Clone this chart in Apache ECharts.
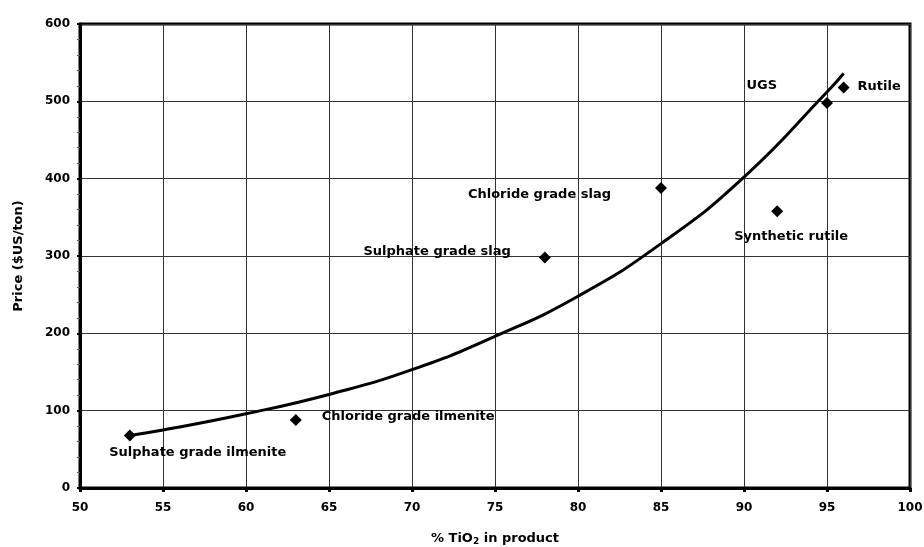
<!DOCTYPE html>
<html><head><meta charset="utf-8">
<script src="https://cdn.jsdelivr.net/npm/echarts@6/dist/echarts.min.js"></script>
<style>html,body{margin:0;padding:0;background:#fff}#c{width:924px;height:547px}</style>
</head><body><div id="c"></div>
<script>
// Data
const productNames = ['Sulphate grade ilmenite','Chloride grade ilmenite','Sulphate grade slag','Chloride grade slag','Synthetic rutile','UGS','Rutile'];
const tio2Pct = [53, 63, 78, 85, 92, 95, 96];
const priceUSD = [68, 88, 298, 388, 358, 498, 518];
// Trend curve points
const trendX = [53, 55, 60, 65, 70, 75, 80, 85, 90, 95, 96];
const trendY = [68, 75, 96, 121, 153, 196, 248, 316, 402, 512, 536];

const font = '"DejaVu Sans", "Liberation Sans", Arial, sans-serif';
const labelStyle = [
  {position:'bottom', offset:[68, 0]},
  {position:'right', distance:20, offset:[0,-3]},
  {position:'left', distance:28, offset:[0,-6]},
  {position:'left', distance:44, offset:[0,7]},
  {position:'bottom', distance:12, offset:[14,1]},
  {position:'left', distance:44, offset:[0,-17]},
  {position:'right', distance:8, offset:[0,-1]}
];
const pts = tio2Pct.map((x,i)=>({
  value:[x, priceUSD[i]],
  label:Object.assign({show:true, formatter:productNames[i], color:'#000', fontFamily:font, fontWeight:'bold', fontSize:13}, labelStyle[i])
}));

const chart = echarts.init(document.getElementById('c'));
chart.setOption({
  animation:false,
  grid:{left:80, right:14, top:24, bottom:59, show:true, borderColor:'#000', borderWidth:3, containLabel:false, outerBoundsMode:'none'},
  xAxis:{
    type:'value', min:50, max:100, interval:5,
    name:'{a|% TiO}{s|2}{a| in product}', nameLocation:'middle', nameGap:43,
    nameTextStyle:{rich:{a:{fontFamily:font,fontWeight:'bold',fontSize:13,color:'#000'},s:{fontFamily:font,fontWeight:'bold',fontSize:9,color:'#000',verticalAlign:'bottom',padding:[6,0,0,0]}}},
    axisLine:{lineStyle:{color:'#000', width:3}},
    axisTick:{show:true, length:4, lineStyle:{color:'#000', width:3}},
    axisLabel:{color:'#000', fontFamily:font, fontWeight:'bold', fontSize:12, margin:14},
    splitLine:{show:true, lineStyle:{color:'#333', width:1}}
  },
  yAxis:{
    type:'value', min:0, max:600, interval:100,
    name:'Price ($US/ton)', nameLocation:'middle', nameGap:55, nameRotate:90,
    nameTextStyle:{fontFamily:font, fontWeight:'bold', fontSize:13, color:'#000'},
    axisLine:{show:true, lineStyle:{color:'#000', width:3}},
    axisTick:{show:true, length:3, lineStyle:{color:'#000', width:2}},
    minorTick:{show:true, splitNumber:5, length:3, lineStyle:{color:'#555', width:1}},
    axisLabel:{color:'#000', fontFamily:font, fontWeight:'bold', fontSize:12, margin:10},
    splitLine:{show:true, lineStyle:{color:'#333', width:1}}
  },
  series:[
    {type:'line', data:trendX.map((x,i)=>[x,trendY[i]]), smooth:true, showSymbol:false, symbol:'none',
     lineStyle:{color:'#000', width:3}, z:2},
    {type:'scatter', data:pts, symbol:'diamond', symbolSize:12, itemStyle:{color:'#000', opacity:1}, z:3}
  ]
});
</script></body></html>
